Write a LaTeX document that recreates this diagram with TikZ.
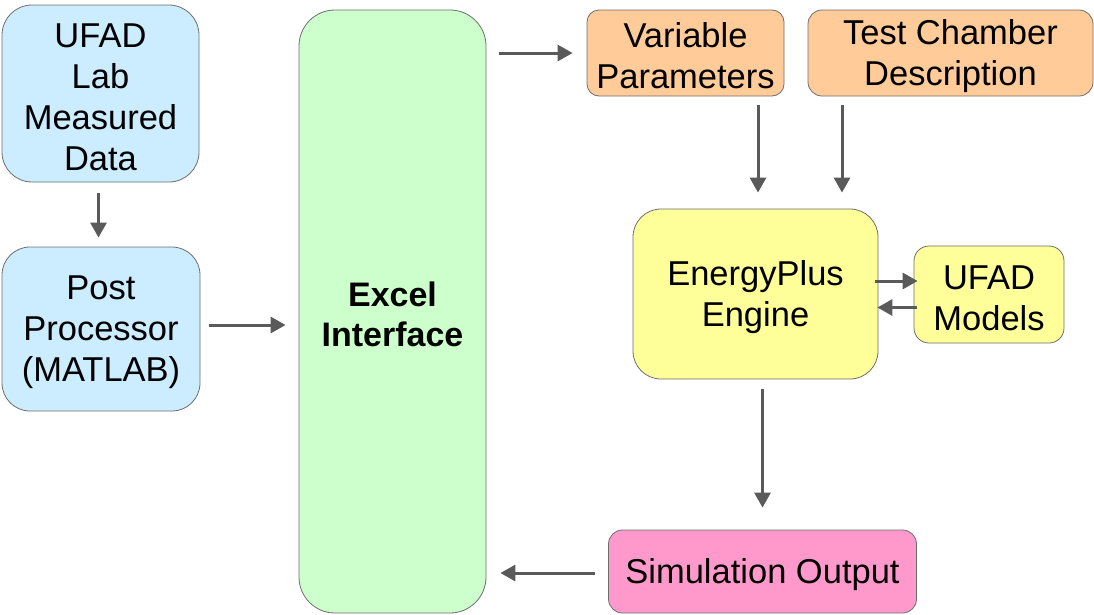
\documentclass[tikz,border=0pt]{standalone}
\usepackage{fontspec}
\setmainfont{Liberation Sans}
\usetikzlibrary{arrows.meta,calc}
\definecolor{cblue}{HTML}{CCECFF}
\definecolor{cgreen}{HTML}{CCFFCC}
\definecolor{corange}{HTML}{FFCC99}
\definecolor{cyellow}{HTML}{FFFF99}
\definecolor{cpink}{HTML}{FF99CC}
\definecolor{cborder}{HTML}{6E6E6E}
\definecolor{carrow}{HTML}{5A5A5A}
\newcommand{\lowstrut}{\rule{0pt}{31pt}}
\tikzset{
  box/.style={draw=cborder, line width=0.8pt, rectangle, inner sep=0pt, align=center,
    font=\fontsize{34.5}{41}\selectfont},
  flow/.style={draw=carrow, line width=3pt, -{Triangle[length=15pt,width=16pt]}},
}
\begin{document}
\begin{tikzpicture}[x=1pt,y=-1pt]
\useasboundingbox (0,0) rectangle (1094,614);
\node[box, fill=cblue, rounded corners=30pt, minimum width=197pt, minimum height=177pt] (lab) at (100.5,93.5) {\lowstrut UFAD\\Lab\\Measured\\Data};
\node[box, fill=cblue, rounded corners=28pt, minimum width=198pt, minimum height=164pt] (post) at (101,329) {\lowstrut Post\\Processor\\(MATLAB)};
\node[box, fill=cgreen, rounded corners=36pt, minimum width=187pt, minimum height=603pt, font=\fontsize{34}{40}\selectfont\bfseries] (excel) at (392.5,311.5) {\lowstrut Excel\\Interface};
\node[box, fill=corange, rounded corners=12pt, minimum width=197pt, minimum height=86pt] (var) at (685.5,53) {\lowstrut Variable\\Parameters};
\node[box, fill=corange, rounded corners=14pt, minimum width=285pt, minimum height=86pt] (test) at (950.5,53) {\lowstrut Test Chamber\\Description};
\node[box, fill=cyellow, rounded corners=28pt, minimum width=245pt, minimum height=170pt] (ep) at (755.5,294) {\lowstrut EnergyPlus\\Engine};
\node[box, fill=cyellow, rounded corners=15pt, minimum width=150pt, minimum height=97pt] (ufad) at (989,294.5) {\lowstrut UFAD\\Models};
\node[box, fill=cpink, rounded corners=14pt, minimum width=308pt, minimum height=83pt] (sim) at (762.5,571.5) {\lowstrut Simulation Output};

\draw[flow, shorten <=11pt, shorten >=9pt] ([xshift=-2pt]lab.south) -- ([xshift=-2pt]lab.south |- post.north);
\draw[flow, shorten <=9pt, shorten >=13pt] ([yshift=4pt]post.east) -- ([yshift=4pt]post.east -| excel.west);
\draw[flow, shorten <=13pt, shorten >=14pt] (excel.east |- var.west) -- (var.west);
\draw[flow, shorten <=9pt, shorten >=16pt] ([xshift=2.5pt]ep.north |- var.south) -- ([xshift=2.5pt]ep.north);
\draw[flow, shorten <=9pt, shorten >=16pt] ([xshift=86.5pt]ep.north |- test.south) -- ([xshift=86.5pt]ep.north);
\draw[flow, shorten <=-3pt, shorten >=-4pt] ([yshift=13pt]ep.east) -- ([yshift=13pt]ep.east -| ufad.west);
\draw[flow, shorten <=-3pt, shorten >=-1pt] ([yshift=-13pt]ufad.west) -- ([yshift=-13pt]ufad.west -| ep.east);
\draw[flow, shorten <=10pt, shorten >=22pt] (sim.north |- ep.south) -- (sim.north);
\draw[flow, shorten <=13pt, shorten >=14pt] ([yshift=-1.5pt]sim.west) -- ([yshift=-1.5pt]sim.west -| excel.east);
\end{tikzpicture}
\end{document}
